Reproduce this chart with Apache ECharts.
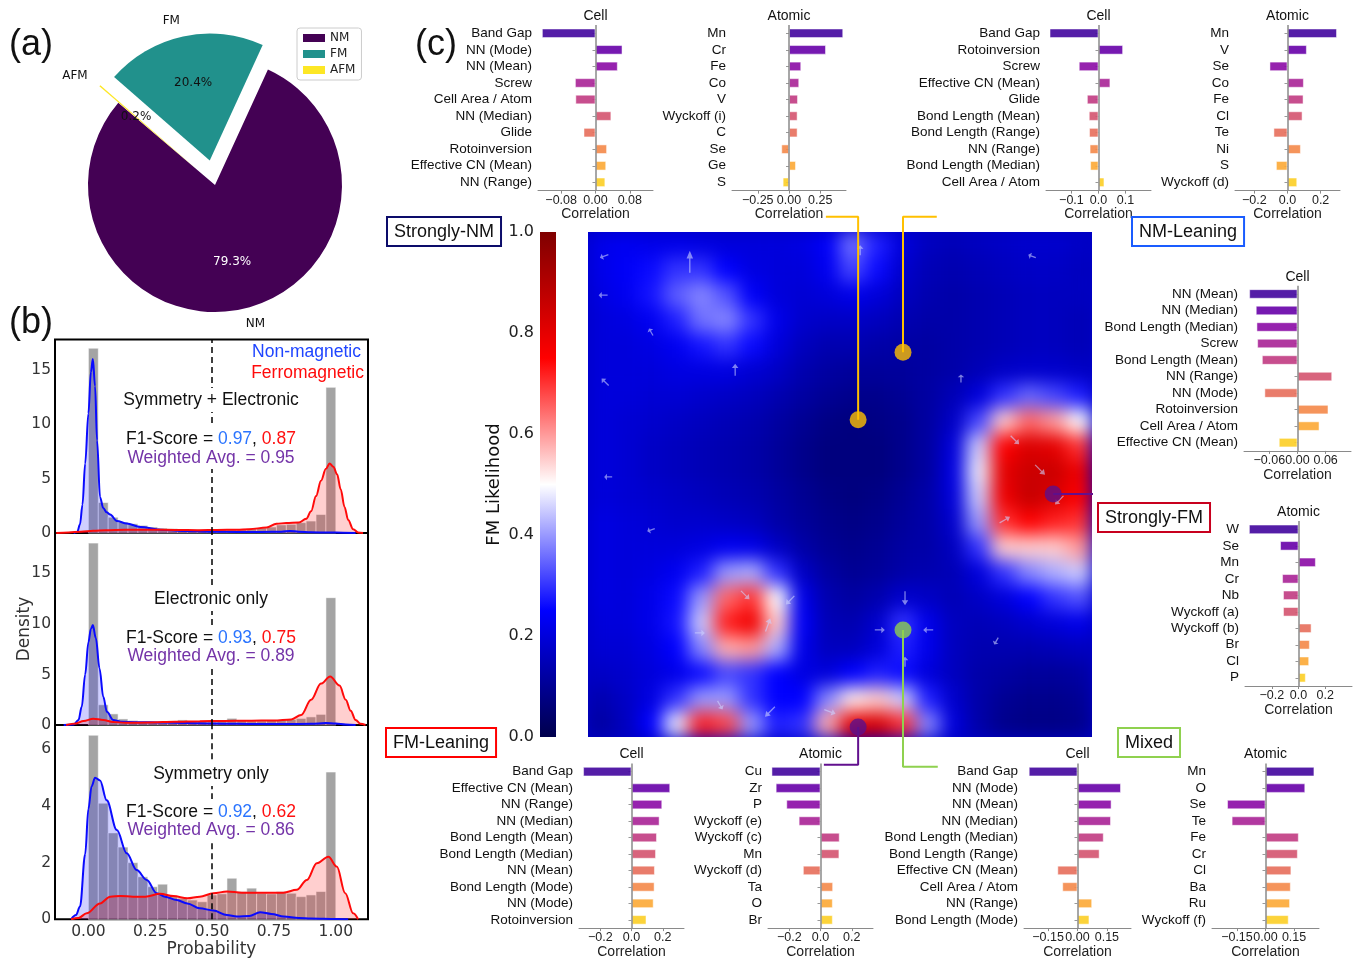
<!DOCTYPE html>
<html>
<head>
<meta charset="utf-8">
<title>Magnetic ordering classifier overview</title>
<script src="https://cdn.jsdelivr.net/npm/echarts@6.0.0/dist/echarts.min.js"></script>
<style>
  html, body { margin: 0; padding: 0; background: #ffffff; }
  #page { position: relative; width: 1354px; height: 960px; overflow: hidden; }
  #fieldWrap { position: absolute; left: 588px; top: 232px; width: 504px; height: 505px; overflow: hidden; background: #0000c4; }
  #field { position: absolute; left: 0; top: 0; width: 504px; height: 505px; filter: blur(9px); }
  #main { position: absolute; left: 0; top: 0; width: 1354px; height: 960px; }
</style>
</head>
<body>
<div id="page">
  <div id="fieldWrap"><div id="field"></div></div>
  <div id="main"></div>
</div>
<script>
const SANS = '"Liberation Sans", Arial, sans-serif';
const MPL = '"DejaVu Sans", sans-serif';

// ---------------- (a) class composition ----------------
const pieNames = ['NM', 'FM', 'AFM'];
const pieShares = [79.3, 20.4, 0.2];

// ---------------- (b) predicted-probability distributions ----------------
const BIN_W = 0.04;
const binStarts = [0.00, 0.04, 0.08, 0.12, 0.16, 0.20, 0.24, 0.28, 0.32, 0.36, 0.40, 0.44, 0.48,
                   0.52, 0.56, 0.60, 0.64, 0.68, 0.72, 0.76, 0.80, 0.84, 0.88, 0.92, 0.96];
const histSymElec = [17.0, 2.8, 1.45, 1.0, 0.85, 0.7, 0.55, 0.45, 0.4, 0.35, 0.3, 0.3, 0.3, 0.3, 0.3,
                     0.35, 0.4, 0.45, 0.55, 0.75, 0.8, 0.95, 1.1, 1.7, 13.4];
const histElec = [18.0, 2.0, 1.1, 0.6, 0.45, 0.35, 0.3, 0.3, 0.4, 0.5, 0.4, 0.35, 0.3, 0.35, 0.66,
                  0.45, 0.4, 0.4, 0.45, 0.5, 0.55, 0.65, 0.8, 1.05, 12.6];
const histSym = [6.5, 4.1, 3.05, 2.55, 2.0, 1.5, 1.15, 1.24, 0.8, 0.74, 0.68, 0.62, 0.86, 0.9, 1.45,
                 0.98, 1.1, 0.92, 0.9, 0.98, 0.92, 0.8, 0.86, 0.98, 5.2];

const kdeNmSymElec = [[-0.06, 0], [-0.045, 0.1], [-0.034, 0.8], [-0.024, 2.6], [-0.013, 6.4], [0, 11.0],
  [0.01, 14.8], [0.018, 16.0], [0.027, 13.5], [0.035, 8.5], [0.047, 3.3], [0.06, 2.3], [0.074, 1.9],
  [0.088, 1.7], [0.115, 1.1], [0.155, 0.87], [0.21, 0.56], [0.29, 0.3], [0.38, 0.19], [0.5, 0.12],
  [0.6, 0.1], [0.7, 0.09], [0.78, 0.12], [0.815, 0.19], [0.85, 0.12], [0.9, 0.06], [0.97, 0.05],
  [1.03, 0.02], [1.08, 0]];
const kdeFmSymElec = [[-0.13, 0], [-0.08, 0.05], [-0.03, 0.12], [0.02, 0.2], [0.07, 0.25], [0.15, 0.3],
  [0.25, 0.3], [0.35, 0.28], [0.45, 0.25], [0.52, 0.28], [0.6, 0.3], [0.65, 0.35], [0.72, 0.5],
  [0.76, 0.85], [0.8, 0.92], [0.85, 0.96], [0.88, 1.3], [0.9, 2.0], [0.92, 3.4], [0.94, 4.8],
  [0.96, 5.9], [0.975, 6.4], [0.99, 6.1], [1.005, 5.4], [1.02, 4.0], [1.035, 2.4], [1.05, 1.2],
  [1.07, 0.35], [1.09, 0.05], [1.11, 0]];
const kdeNmElec = [[-0.1, 0], [-0.06, 0.05], [-0.04, 0.5], [-0.027, 1.8], [-0.013, 5.0], [0, 8.2],
  [0.01, 9.5], [0.018, 9.9], [0.03, 8.6], [0.045, 5.6], [0.06, 2.8], [0.075, 1.3], [0.1, 0.5],
  [0.13, 0.33], [0.2, 0.28], [0.3, 0.24], [0.4, 0.2], [0.5, 0.15], [0.6, 0.12], [0.7, 0.1], [0.8, 0.1],
  [0.9, 0.12], [0.96, 0.2], [1.0, 0.15], [1.04, 0.05], [1.08, 0]];
const kdeFmElec = [[-0.09, 0], [-0.05, 0.15], [-0.02, 0.4], [0.02, 0.62], [0.06, 0.5], [0.1, 0.3],
  [0.15, 0.22], [0.25, 0.25], [0.35, 0.32], [0.45, 0.38], [0.55, 0.4], [0.65, 0.42], [0.75, 0.45],
  [0.82, 0.55], [0.86, 1.0], [0.9, 2.5], [0.94, 4.1], [0.977, 4.8], [1.015, 3.9], [1.04, 2.5],
  [1.06, 1.4], [1.08, 0.5], [1.1, 0.12], [1.12, 0]];
const kdeNmSym = [[-0.07, 0], [-0.05, 0.15], [-0.034, 0.45], [-0.013, 2.3], [0, 3.9], [0.013, 4.7],
  [0.027, 5.0], [0.047, 4.9], [0.074, 4.2], [0.115, 3.15], [0.155, 2.33], [0.195, 1.74], [0.236, 1.39],
  [0.276, 0.92], [0.31, 0.8], [0.357, 0.68], [0.4, 0.56], [0.45, 0.39], [0.505, 0.31], [0.56, 0.15],
  [0.6, 0.1], [0.65, 0.12], [0.694, 0.25], [0.74, 0.19], [0.79, 0.1], [0.85, 0.05], [0.9, 0.03],
  [1.0, 0.01], [1.05, 0]];
const kdeFmSym = [[-0.07, 0], [-0.04, 0.05], [-0.007, 0.21], [0.047, 0.56], [0.088, 0.8], [0.13, 0.82],
  [0.18, 0.8], [0.23, 0.8], [0.29, 0.9], [0.344, 0.82], [0.4, 0.74], [0.45, 0.8], [0.505, 0.92],
  [0.56, 0.98], [0.62, 0.94], [0.7, 0.94], [0.788, 0.94], [0.842, 1.04], [0.883, 1.39], [0.923, 1.98],
  [0.97, 2.21], [1.004, 1.86], [1.038, 0.92], [1.07, 0.21], [1.09, 0]];

const probTicks = [0, 0.25, 0.5, 0.75, 1.0];
const densityTicks = [[0, 5, 10, 15], [0, 5, 10, 15], [0, 2, 4, 6]];
const modelNames = ['Symmetry + Electronic', 'Electronic only', 'Symmetry only'];
const f1Nm = [0.97, 0.93, 0.92];
const f1Fm = [0.87, 0.75, 0.62];
const weightedAvg = [0.95, 0.89, 0.86];
const THRESHOLD = 0.5;

// ---------------- (c) latent-space FM likelihood field (20 x 20, top row first) ----------------
const fieldRows = [
  [22, 23, 22, 22, 21, 20, 20, 20, 21, 24, 36, 28, 20, 16, 15, 16, 17, 18, 18, 17],
  [22, 24, 26, 30, 30, 25, 21, 20, 20, 23, 32, 26, 18, 15, 14, 15, 16, 17, 17, 16],
  [21, 23, 27, 34, 38, 33, 24, 20, 19, 20, 22, 20, 16, 14, 13, 14, 15, 16, 16, 16],
  [20, 21, 23, 28, 36, 38, 30, 22, 18, 17, 17, 16, 14, 13, 13, 14, 15, 16, 16, 15],
  [20, 20, 21, 23, 27, 30, 26, 20, 16, 14, 14, 13, 12, 12, 13, 14, 15, 16, 16, 15],
  [20, 20, 20, 21, 21, 21, 19, 17, 14, 12, 11, 11, 11, 12, 13, 15, 17, 18, 18, 17],
  [20, 20, 19, 19, 18, 17, 16, 14, 12, 10, 9, 9, 10, 12, 15, 20, 30, 35, 32, 28],
  [20, 19, 18, 17, 16, 15, 14, 12, 10, 8, 7, 8, 9, 12, 17, 32, 55, 65, 60, 50],
  [20, 19, 17, 16, 15, 14, 13, 11, 9, 7, 7, 7, 9, 12, 20, 45, 75, 82, 80, 70],
  [20, 19, 17, 16, 15, 14, 13, 11, 9, 7, 7, 7, 9, 12, 21, 48, 80, 85, 85, 78],
  [20, 19, 18, 17, 16, 15, 14, 12, 10, 8, 7, 8, 10, 13, 20, 45, 78, 86, 82, 75],
  [21, 20, 19, 18, 18, 17, 16, 13, 11, 9, 8, 9, 11, 13, 18, 40, 70, 75, 72, 70],
  [21, 20, 20, 20, 21, 23, 22, 17, 13, 10, 9, 10, 12, 13, 16, 30, 55, 55, 55, 60],
  [21, 20, 21, 23, 28, 40, 42, 30, 17, 12, 10, 11, 13, 14, 15, 20, 30, 38, 42, 45],
  [21, 20, 22, 26, 40, 65, 70, 50, 22, 14, 12, 14, 18, 17, 15, 17, 20, 25, 30, 33],
  [20, 20, 22, 27, 45, 72, 78, 55, 24, 15, 14, 18, 30, 22, 16, 15, 16, 18, 20, 22],
  [19, 19, 21, 25, 38, 58, 60, 42, 22, 16, 16, 20, 28, 22, 16, 14, 14, 14, 15, 16],
  [17, 18, 20, 22, 26, 32, 30, 25, 21, 20, 25, 28, 26, 20, 16, 13, 12, 11, 11, 12],
  [14, 17, 21, 30, 40, 40, 30, 25, 25, 38, 52, 55, 45, 28, 18, 13, 10, 9, 9, 10],
  [12, 16, 25, 48, 72, 68, 40, 28, 30, 58, 80, 82, 70, 38, 20, 13, 9, 8, 8, 9]
];
// flow arrows: [x, y, direction (deg), length (px)] in latent coordinates (0..1)
const flowArrows = [
  [0.032, 0.952, 200, 9], [0.202, 0.941, 90, 22], [0.030, 0.875, 180, 9], [0.292, 0.727, 90, 12],
  [0.034, 0.703, 135, 10], [0.881, 0.952, 160, 8], [0.540, 0.964, 90, 10], [0.125, 0.802, 120, 8],
  [0.040, 0.515, 180, 8], [0.125, 0.410, 200, 8], [0.740, 0.710, 90, 8],
  [0.629, 0.275, -90, 14], [0.579, 0.212, 0, 10], [0.675, 0.212, 180, 10], [0.629, 0.149, 90, 10],
  [0.357, 0.222, 70, 14], [0.312, 0.281, -45, 12], [0.401, 0.271, 225, 12], [0.222, 0.206, 0, 10],
  [0.361, 0.050, 225, 14], [0.262, 0.063, -60, 10], [0.480, 0.050, -20, 12],
  [0.897, 0.529, -45, 14], [0.935, 0.469, 225, 12], [0.847, 0.588, -45, 12], [0.827, 0.430, 30, 12],
  [0.810, 0.190, 240, 8]
];
// representative sites and leader lines to their feature panels (latent coordinates)
const siteNames = ['Strongly-NM', 'NM-Leaning', 'Strongly-FM', 'FM-Leaning', 'Mixed'];
const sitePoints = [[0.536, 0.628], [0.625, 0.762], [0.923, 0.481], [0.536, 0.020], [0.625, 0.212]];
const leaderPaths = [
  [[0.536, 0.628], [0.536, 1.030], [0.472, 1.030]],
  [[0.625, 0.762], [0.625, 1.030], [0.692, 1.030]],
  [[0.923, 0.481], [1.407, 0.481]],
  [[0.536, 0.020], [0.536, -0.055], [0.468, -0.055]],
  [[0.625, 0.212], [0.625, -0.059], [0.694, -0.059]]
];
const colorbarTicks = [0, 0.2, 0.4, 0.6, 0.8, 1.0];

// ---------------- (c) feature correlations per region ----------------
const nmStrongCellFeatures = ['Band Gap', 'NN (Mode)', 'NN (Mean)', 'Screw', 'Cell Area / Atom', 'NN (Median)', 'Glide', 'Rotoinversion', 'Effective CN (Mean)', 'NN (Range)'];
const nmStrongCellCorr = [-0.125, 0.063, 0.052, -0.048, -0.047, 0.037, -0.028, 0.027, 0.025, 0.023];
const nmStrongAtomicFeatures = ['Mn', 'Cr', 'Fe', 'Co', 'V', 'Wyckoff (i)', 'C', 'Se', 'Ge', 'S'];
const nmStrongAtomicCorr = [0.434, 0.296, 0.098, 0.082, 0.072, 0.069, 0.069, -0.062, 0.056, -0.051];
const nmLeanCellFeatures = ['Band Gap', 'Rotoinversion', 'Screw', 'Effective CN (Mean)', 'Glide', 'Bond Length (Mean)', 'Bond Length (Range)', 'NN (Range)', 'Bond Length (Median)', 'Cell Area / Atom'];
const nmLeanCellCorr = [-0.181, 0.091, -0.073, 0.044, -0.043, -0.036, -0.035, -0.033, -0.031, 0.022];
const nmLeanAtomicFeatures = ['Mn', 'V', 'Se', 'Co', 'Fe', 'Cl', 'Te', 'Ni', 'S', 'Wyckoff (d)'];
const nmLeanAtomicCorr = [0.299, 0.117, -0.109, 0.099, 0.097, 0.091, -0.085, 0.081, -0.070, 0.059];
const fmStrongCellFeatures = ['NN (Mean)', 'NN (Median)', 'Bond Length (Median)', 'Screw', 'Bond Length (Mean)', 'NN (Range)', 'NN (Mode)', 'Rotoinversion', 'Cell Area / Atom', 'Effective CN (Mean)'];
const fmStrongCellCorr = [-0.103, -0.089, -0.0875, -0.086, -0.076, 0.074, -0.0706, 0.066, 0.047, -0.040];
const fmStrongAtomicFeatures = ['W', 'Se', 'Mn', 'Cr', 'Nb', 'Wyckoff (a)', 'Wyckoff (b)', 'Br', 'Cl', 'P'];
const fmStrongAtomicCorr = [-0.371, -0.138, 0.130, -0.123, -0.116, -0.116, 0.098, 0.085, 0.080, 0.055];
const fmLeanCellFeatures = ['Band Gap', 'Effective CN (Mean)', 'NN (Range)', 'NN (Median)', 'Bond Length (Mean)', 'Bond Length (Median)', 'NN (Mean)', 'Bond Length (Mode)', 'NN (Mode)', 'Rotoinversion'];
const fmLeanCellCorr = [-0.310, 0.248, 0.197, 0.180, 0.163, 0.157, 0.150, 0.148, 0.142, 0.096];
const fmLeanAtomicFeatures = ['Cu', 'Zr', 'P', 'Wyckoff (e)', 'Wyckoff (c)', 'Mn', 'Wyckoff (d)', 'Ta', 'O', 'Br'];
const fmLeanAtomicCorr = [-0.314, -0.287, -0.219, -0.140, 0.123, 0.121, -0.113, 0.081, 0.079, 0.079];
const mixedCellFeatures = ['Band Gap', 'NN (Mode)', 'NN (Mean)', 'NN (Median)', 'Bond Length (Median)', 'Bond Length (Range)', 'Effective CN (Mean)', 'Cell Area / Atom', 'NN (Range)', 'Bond Length (Mode)'];
const mixedCellCorr = [-0.249, 0.222, 0.174, 0.171, 0.134, 0.113, -0.103, -0.078, 0.075, 0.061];
const mixedAtomicFeatures = ['Mn', 'O', 'Se', 'Te', 'Fe', 'Cr', 'Cl', 'Ba', 'Ru', 'Wyckoff (f)'];
const mixedAtomicCorr = [0.257, 0.209, -0.202, -0.178, 0.175, 0.170, 0.136, 0.133, 0.129, 0.122];
const corrTicks = [
  [-0.08, 0, 0.08], [-0.25, 0, 0.25], [-0.1, 0, 0.1], [-0.2, 0, 0.2], [-0.06, 0, 0.06],
  [-0.2, 0, 0.2], [-0.2, 0, 0.2], [-0.2, 0, 0.2], [-0.15, 0, 0.15], [-0.15, 0, 0.15]
];

// ================= styling / layout =================
const PIE_COLORS = ['#440154', '#21918c', '#fde725'];
const SEISMIC = ['#00004c', '#0000ff', '#ffffff', '#ff0000', '#7f0000'];
const PLASMA10 = ['#41049d', '#6700a8', '#8b0aa5', '#a82296', '#c13b82', '#d4536f', '#e76e5b', '#f48849', '#fca835', '#fcce25'];
const SITE_COLORS = ['#ffc000', '#ffc000', '#5c0f8b', '#5c0f8b', '#8fd14f'];
const LEADER_COLORS = ['#ffc000', '#ffc000', '#62108e', '#62108e', '#8fd14f'];

const grids = [], xAxes = [], yAxes = [], series = [], graphics = [];

function addText(x, y, text, font, fill, extra) {
  graphics.push({
    type: 'text', x: x, y: y, z: 50, silent: true,
    style: Object.assign({ text: text, font: font, fill: fill, align: 'center', verticalAlign: 'middle' }, extra || {})
  });
}
function addGrid(box) {
  const g = grids.length;
  grids.push(Object.assign({ containLabel: false }, box));
  return g;
}
const minusFmt = (digits) => (v) => (v < 0 ? '\u2212' : '') + Math.abs(v).toFixed(digits);

// ---------- (a) pie ----------
const pieBase = {
  type: 'pie', center: [215, 185], startAngle: 139.6, clockwise: false,
  selectedMode: 'multiple', selectedOffset: 25, avoidLabelOverlap: false, silent: true,
  labelLine: { show: false }, emphasis: { disabled: true }
};
series.push(Object.assign({}, pieBase, {
  name: 'share', radius: 127, z: 2, label: { show: false },
  data: pieNames.map((n, i) => ({ name: n, value: pieShares[i], selected: i > 0, itemStyle: { color: PIE_COLORS[i] } }))
}));
series.push(Object.assign({}, pieBase, {
  name: 'percent', radius: 152.4, z: 3,
  label: { show: true, position: 'inside', formatter: (p) => p.value + '%', fontSize: 12, fontFamily: MPL },
  data: pieNames.map((n, i) => ({
    name: n, value: pieShares[i], selected: i > 0, itemStyle: { color: 'rgba(0,0,0,0)' },
    label: { color: i === 0 ? '#ffffff' : '#111111' }
  }))
}));
const nameLabelPad = [[0, 0, 0, 19], [0, 17, 0, 0], [0, 26, 0, 0]];
series.push(Object.assign({}, pieBase, {
  name: 'names', radius: 279.4, z: 3,
  label: { show: true, position: 'inside', formatter: '{b}', fontSize: 12, fontFamily: MPL, color: '#111' },
  data: pieNames.map((n, i) => ({
    name: n, value: pieShares[i], selected: i > 0, itemStyle: { color: 'rgba(0,0,0,0)' },
    label: { padding: nameLabelPad[i] }
  }))
}));

// ---------- (b) probability distributions ----------
const bBoxes = [
  { left: 55, top: 339.5, width: 313, height: 193.5, ymax: 17.8 },
  { left: 55, top: 533, width: 313, height: 192, ymax: 19.0 },
  { left: 55, top: 725, width: 313, height: 194.3, ymax: 6.86 }
];
const bHists = [histSymElec, histElec, histSym];
const bNm = [kdeNmSymElec, kdeNmElec, kdeNmSym];
const bFm = [kdeFmSymElec, kdeFmElec, kdeFmSym];
const textCenters = [[400, 437, 458], [599, 636, 656], [774, 810, 830]];

bBoxes.forEach((b, i) => {
  const g = addGrid({ left: b.left, top: b.top, width: b.width, height: b.height, show: true, borderColor: '#000', borderWidth: 2 });
  const last = i === 2;
  xAxes.push({
    gridIndex: g, type: 'value', min: -0.135, max: 1.13,
    axisLine: { show: false }, axisTick: { show: false }, splitLine: { show: false },
    axisLabel: last ? { show: true, customValues: probTicks, formatter: (v) => v.toFixed(2), fontSize: 15.5, fontFamily: MPL, color: '#333', margin: 5 } : { show: false },
    name: last ? 'Probability' : '', nameLocation: 'middle', nameGap: 19,
    nameTextStyle: { fontSize: 17, fontFamily: MPL, color: '#333' }
  });
  yAxes.push({
    gridIndex: g, type: 'value', min: 0, max: b.ymax,
    axisLine: { show: false }, axisTick: { show: false }, splitLine: { show: false },
    axisLabel: { customValues: densityTicks[i], fontSize: 15.5, fontFamily: MPL, color: '#333', margin: 4 },
    name: i === 1 ? 'Density' : '', nameLocation: 'middle', nameGap: 22, nameMoveOverlap: false,
    nameTextStyle: { fontSize: 17, fontFamily: MPL, color: '#333' }
  });
  series.push({
    type: 'custom', xAxisIndex: g, yAxisIndex: g, silent: true, z: 2,
    data: binStarts.map((s, k) => [s, bHists[i][k]]),
    encode: { x: 0, y: 1 },
    renderItem: (params, api) => {
      const x0 = api.value(0), h = api.value(1);
      const p0 = api.coord([x0, h]);
      const p1 = api.coord([x0 + BIN_W, 0]);
      return {
        type: 'rect',
        shape: { x: p0[0], y: p0[1], width: p1[0] - p0[0], height: p1[1] - p0[1] },
        style: { fill: 'rgba(125,125,125,0.7)', stroke: 'rgba(255,255,255,0.55)', lineWidth: 1 }
      };
    }
  });
  series.push({
    type: 'line', xAxisIndex: g, yAxisIndex: g, data: bNm[i], smooth: 0.35, smoothMonotone: 'x',
    showSymbol: false, silent: true, z: 3,
    lineStyle: { color: '#0a0aff', width: 2 }, areaStyle: { color: 'rgba(0,0,255,0.27)' },
    markLine: {
      silent: true, symbol: ['none', 'none'], label: { show: false },
      lineStyle: { color: '#000', type: [6, 4], width: 1.5 },
      data: [{ xAxis: THRESHOLD }]
    }
  });
  series.push({
    type: 'line', xAxisIndex: g, yAxisIndex: g, data: bFm[i], smooth: 0.35, smoothMonotone: 'x',
    showSymbol: false, silent: true, z: 3,
    lineStyle: { color: '#ff0a0a', width: 2 }, areaStyle: { color: 'rgba(255,0,0,0.27)' }
  });

  const tc = textCenters[i];
  const bFont = '17.5px ' + SANS;
  addText(211, tc[0], modelNames[i], bFont, '#111', { backgroundColor: '#fff', padding: [3, 2] });
  graphics.push({
    type: 'text', x: 211, y: tc[1], z: 50, silent: true,
    style: {
      text: '{k|F1-Score = }{b|' + f1Nm[i].toFixed(2) + '}{k|, }{r|' + f1Fm[i].toFixed(2) + '}',
      align: 'center', verticalAlign: 'middle', backgroundColor: '#fff', padding: [4, 2, 0, 2],
      rich: {
        k: { fill: '#111', font: bFont },
        b: { fill: '#2a74ff', font: bFont },
        r: { fill: '#ff1010', font: bFont }
      }
    }
  });
  addText(211, tc[2], 'Weighted Avg. = ' + weightedAvg[i].toFixed(2), bFont, '#7434a8', { backgroundColor: '#fff', padding: [0, 2, 4, 2] });
});
addText(361, 352, 'Non-magnetic', '17.5px ' + SANS, '#1f45ff', { align: 'right' });
addText(364, 373, 'Ferromagnetic', '17.5px ' + SANS, '#ff0a0a', { align: 'right' });

// ---------- (c) colour bar ----------
{
  const g = addGrid({ left: 540, top: 232, width: 16, height: 505 });
  xAxes.push({ gridIndex: g, type: 'category', data: ['FM'], show: false });
  yAxes.push({
    gridIndex: g, type: 'value', min: 0, max: 1, position: 'left',
    axisLine: { show: false }, axisTick: { show: false }, splitLine: { show: false },
    axisLabel: { customValues: colorbarTicks, formatter: (v) => v.toFixed(1), fontSize: 16, fontFamily: MPL, color: '#222', margin: 6 },
    name: 'FM Likelihood', nameLocation: 'middle', nameGap: 37,
    nameTextStyle: { fontSize: 18, fontFamily: MPL, color: '#111' }
  });
  series.push({
    type: 'bar', xAxisIndex: g, yAxisIndex: g, data: [colorbarTicks[colorbarTicks.length - 1]],
    barWidth: '100%', silent: true,
    itemStyle: {
      color: new echarts.graphic.LinearGradient(0, 0, 0, 1, [
        { offset: 0, color: SEISMIC[4] }, { offset: 0.25, color: SEISMIC[3] },
        { offset: 0.5, color: SEISMIC[2] }, { offset: 0.75, color: SEISMIC[1] },
        { offset: 1, color: SEISMIC[0] }
      ])
    }
  });
}

// ---------- (c) overlay on the latent map: flow arrows, sites and leader lines ----------
{
  const g = addGrid({ left: 588, top: 232, width: 504, height: 505 });
  xAxes.push({ gridIndex: g, type: 'value', min: 0, max: 1, show: false });
  yAxes.push({ gridIndex: g, type: 'value', min: 0, max: 1, show: false });
  series.push({
    type: 'scatter', xAxisIndex: g, yAxisIndex: g, silent: true, z: 3,
    data: flowArrows,
    symbol: 'path://M0 4.2 L13 4.2 L13 1 L20 5 L13 9 L13 5.8 L0 5.8 Z',
    symbolKeepAspect: false,
    symbolSize: (v) => [v[3], 6.5],
    symbolRotate: (v) => v[2],
    itemStyle: { color: 'rgba(205,210,255,0.75)' }
  });
  leaderPaths.forEach((path, k) => {
    series.push({
      type: 'line', xAxisIndex: g, yAxisIndex: g, data: path, clip: false, silent: true, z: 4,
      showSymbol: false, lineStyle: { color: LEADER_COLORS[k], width: 2 }
    });
  });
  series.push({
    type: 'scatter', xAxisIndex: g, yAxisIndex: g, silent: true, z: 5, symbolSize: 17,
    data: sitePoints.map((p, k) => ({ name: siteNames[k], value: p, itemStyle: { color: SITE_COLORS[k] } }))
  });
}

// ---------- (c) correlation bar panels ----------
const corrData = [
  [nmStrongCellFeatures, nmStrongCellCorr, 'Cell'], [nmStrongAtomicFeatures, nmStrongAtomicCorr, 'Atomic'],
  [nmLeanCellFeatures, nmLeanCellCorr, 'Cell'], [nmLeanAtomicFeatures, nmLeanAtomicCorr, 'Atomic'],
  [fmStrongCellFeatures, fmStrongCellCorr, 'Cell'], [fmStrongAtomicFeatures, fmStrongAtomicCorr, 'Atomic'],
  [fmLeanCellFeatures, fmLeanCellCorr, 'Cell'], [fmLeanAtomicFeatures, fmLeanAtomicCorr, 'Atomic'],
  [mixedCellFeatures, mixedCellCorr, 'Cell'], [mixedAtomicFeatures, mixedAtomicCorr, 'Atomic']
];
const corrBoxes = [
  { left: 538, top: 25, width: 115, height: 165.6, lim: 0.134, digits: 2 },
  { left: 732, top: 25, width: 114, height: 165.6, lim: 0.456, digits: 2 },
  { left: 1046, top: 25, width: 105, height: 165.6, lim: 0.194, digits: 1 },
  { left: 1235, top: 25, width: 105, height: 165.6, lim: 0.317, digits: 1 },
  { left: 1244, top: 285.7, width: 107, height: 165.2, lim: 0.114, digits: 2 },
  { left: 1245, top: 521.1, width: 107, height: 164.9, lim: 0.40, digits: 1 },
  { left: 579, top: 763.4, width: 105, height: 165.9, lim: 0.336, digits: 1 },
  { left: 768, top: 763.4, width: 105, height: 165.9, lim: 0.336, digits: 1 },
  { left: 1024, top: 763.4, width: 107, height: 165.9, lim: 0.273, digits: 2 },
  { left: 1212, top: 763.4, width: 107, height: 165.9, lim: 0.281, digits: 2 }
];
corrData.forEach((d, k) => {
  const b = corrBoxes[k];
  const g = addGrid({ left: b.left, top: b.top, width: b.width, height: b.height });
  xAxes.push({
    gridIndex: g, type: 'value', min: -b.lim, max: b.lim,
    axisLine: { show: true, lineStyle: { color: '#8a8a8a', width: 1 } },
    axisTick: { show: true, customValues: corrTicks[k], length: 3, lineStyle: { color: '#8a8a8a' } },
    splitLine: { show: false },
    axisLabel: { customValues: corrTicks[k], formatter: minusFmt(b.digits), fontSize: 12.5, fontFamily: SANS, color: '#222', margin: 3 },
    name: 'Correlation', nameLocation: 'middle', nameGap: 16,
    nameTextStyle: { fontSize: 14, fontFamily: SANS, color: '#222' }
  });
  yAxes.push({
    gridIndex: g, type: 'category', data: d[0], inverse: true,
    axisLine: { show: false },
    axisTick: { show: true, interval: 0, length: 3, alignWithLabel: true, lineStyle: { color: '#999' } },
    axisLabel: { interval: 0, fontSize: 13.5, fontFamily: SANS, color: '#111', margin: 6 },
    splitLine: { show: false }
  });
  series.push({
    type: 'bar', xAxisIndex: g, yAxisIndex: g, barWidth: '58%', silent: true,
    data: d[1].map((v, i) => ({ value: v, itemStyle: { color: PLASMA10[i] } })),
    itemStyle: { opacity: 0.9, borderColor: 'rgba(255,255,255,0.55)', borderWidth: 1 },
    markLine: {
      silent: true, symbol: ['none', 'none'], label: { show: false },
      lineStyle: { color: '#8a8a8a', type: 'solid', width: 1.5 },
      data: [{ xAxis: 0 }]
    }
  });
  addText(b.left + b.width / 2, b.top - 9, d[2], '14px ' + SANS, '#111');
});

// ---------- region labels and panel letters ----------
const regionBoxes = [
  { x: 388, y: 218, color: '#0c0c6a' },
  { x: 1133, y: 218, color: '#1a5cff' },
  { x: 1099, y: 504, color: '#c8001e' },
  { x: 387, y: 729, color: '#ff0000' },
  { x: 1119, y: 729, color: '#8fd14f' }
];
siteNames.forEach((n, k) => {
  const r = regionBoxes[k];
  graphics.push({
    type: 'text', x: r.x, y: r.y, z: 50, silent: true,
    style: {
      text: n, font: '18px ' + SANS, fill: '#111', align: 'left', verticalAlign: 'top',
      borderColor: r.color, borderWidth: 2, padding: [5, 6, 4, 6], backgroundColor: '#fff'
    }
  });
});
addText(31, 45, '(a)', '36px ' + SANS, '#111');
addText(31, 323, '(b)', '36px ' + SANS, '#111');
addText(436, 45, '(c)', '36px ' + SANS, '#111');

// ================= render =================
const chart = echarts.init(document.getElementById('main'), null, { width: 1354, height: 960 });
chart.setOption({
  animation: false,
  legend: {
    data: pieNames, orient: 'vertical', left: 297, top: 28, icon: 'rect',
    itemWidth: 22, itemHeight: 8, itemGap: 4, selectedMode: false,
    textStyle: { fontSize: 12, fontFamily: MPL, color: '#222' },
    borderColor: '#cccccc', borderWidth: 1, borderRadius: 3, padding: [4, 6, 4, 6]
  },
  grid: grids, xAxis: xAxes, yAxis: yAxes, series: series, graphic: graphics
});

// latent FM likelihood field (smoothed beneath the overlay)
const nCols = fieldRows[0].length, nRows = fieldRows.length;
const fieldCells = [];
fieldRows.forEach((row, r) => row.forEach((v, c) => fieldCells.push([c, r, v / 100])));
const fieldChart = echarts.init(document.getElementById('field'), null, { width: 504, height: 505 });
fieldChart.setOption({
  animation: false,
  grid: { left: 0, right: 0, top: 0, bottom: 0 },
  xAxis: { type: 'category', data: Array.from({ length: nCols }, (_, i) => i), show: false },
  yAxis: { type: 'category', data: Array.from({ length: nRows }, (_, i) => i), show: false, inverse: true },
  visualMap: { show: false, min: 0, max: 1, inRange: { color: SEISMIC } },
  series: [{ type: 'heatmap', data: fieldCells, silent: true, itemStyle: { borderWidth: 0 }, emphasis: { disabled: true } }]
});
</script>
</body>
</html>
